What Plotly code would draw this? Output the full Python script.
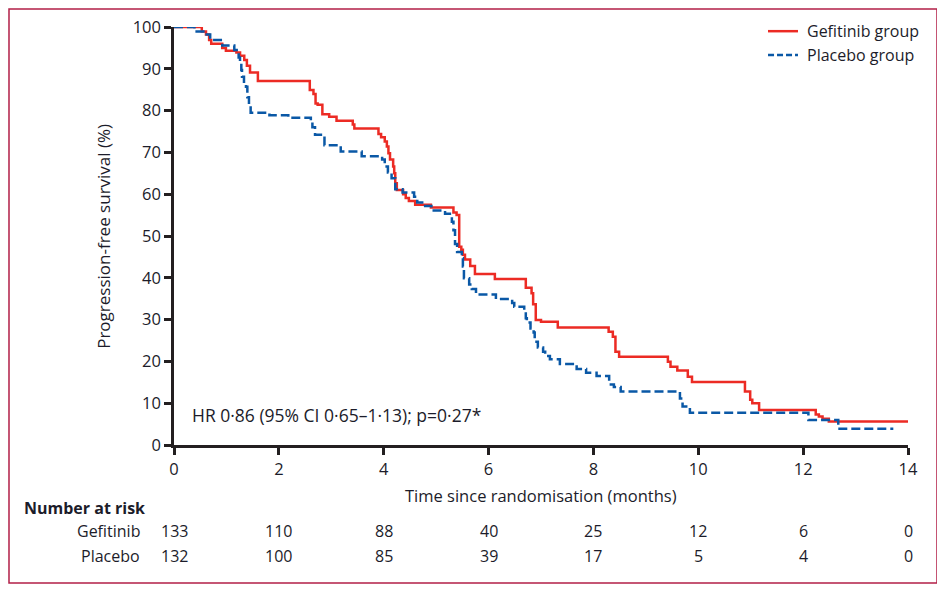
import plotly.graph_objects as go

# Kaplan-Meier step data (months, % progression-free)
gef_t = [0, 0.53, 0.61, 0.67, 0.71, 0.92, 0.99, 1.19, 1.26, 1.34, 1.39, 1.45, 1.60,
         2.59, 2.66, 2.70, 2.74, 2.83, 2.96, 3.10, 3.41, 3.44, 3.90, 3.95, 4.02, 4.06,
         4.09, 4.12, 4.18, 4.20, 4.22, 4.25, 4.37, 4.42, 4.48, 4.60, 4.90, 5.33, 5.39,
         5.44, 5.48, 5.51, 5.55, 5.65, 5.74, 6.12, 6.71, 6.82, 6.85, 6.90, 7.00, 7.32,
         8.29, 8.37, 8.42, 8.49, 9.42, 9.47, 9.60, 9.80, 9.88, 10.89, 10.99, 11.03,
         11.16, 12.24, 12.30, 12.37, 12.49, 14.0]
gef_s = [100, 98.9, 98.2, 96.9, 96.0, 95.0, 94.3, 93.9, 93.1, 92.1, 90.7, 89.1, 87.1,
         84.9, 84.0, 81.7, 81.4, 79.1, 78.5, 77.6, 76.7, 75.7, 74.4, 73.6, 72.6, 71.4,
         69.8, 68.3, 66.6, 65.0, 62.6, 61.0, 60.0, 59.1, 58.4, 57.5, 56.8, 55.6, 55.0,
         47.4, 46.7, 45.5, 44.4, 42.8, 40.9, 39.7, 37.6, 36.3, 33.7, 29.9, 29.5, 28.1,
         27.1, 25.9, 22.3, 21.1, 19.9, 18.7, 17.8, 16.3, 15.1, 12.8, 10.8, 10.0,
         8.4, 7.3, 6.8, 6.3, 5.6, 5.6]

pla_t = [0, 0.39, 0.56, 0.69, 0.92, 1.15, 1.195, 1.233, 1.259, 1.284, 1.297, 1.335,
         1.373, 1.399, 1.43, 1.462, 1.82, 2.18, 2.61, 2.64, 2.69, 2.87, 3.18, 3.58,
         3.97, 4.02, 4.08, 4.15, 4.22, 4.36, 4.58, 4.64, 4.79, 4.91, 5.17, 5.30, 5.33,
         5.36, 5.40, 5.49, 5.51, 5.53, 5.63, 5.68, 5.76, 6.14, 6.45, 6.49, 6.68, 6.71,
         6.73, 6.80, 6.86, 6.88, 6.94, 7.04, 7.08, 7.17, 7.36, 7.68, 7.86, 8.06, 8.30,
         8.39, 8.52, 9.65, 9.70, 9.84, 12.10, 12.67, 13.72]
pla_s = [100, 98.9, 98.2, 96.9, 95.6, 94.5, 93.7, 92.7, 91.3, 89.7, 88.1, 86.9,
         85.7, 83.2, 81.3, 79.5, 78.9, 78.3, 77.2, 76.0, 74.2, 71.7, 70.2, 69.1,
         68.3, 66.6, 65.2, 63.8, 61.2, 60.4, 59.4, 58.0, 57.2, 56.1, 55.3, 53.4, 51.4,
         48.1, 46.2, 44.7, 42.7, 39.9, 38.4, 37.3, 36.0, 34.9, 34.0, 33.1, 31.9, 30.3,
         29.3, 27.9, 26.9, 24.7, 23.3, 22.3, 21.3, 20.5, 19.4, 18.2, 17.3, 16.5, 14.5,
         13.9, 12.8, 11.1, 9.2, 7.7, 6.0, 3.9, 3.9]

# Number at risk table
risk_times = [0, 2, 4, 6, 8, 10, 12, 14]
risk_gef = [133, 110, 88, 40, 25, 12, 6, 0]
risk_pla = [132, 100, 85, 39, 17, 5, 4, 0]

series_names = ["Gefitinib group", "Placebo group"]
x_ticks = [0, 2, 4, 6, 8, 10, 12, 14]
y_ticks = [0, 10, 20, 30, 40, 50, 60, 70, 80, 90, 100]

FONT = "Open Sans"
TXT = "#1c1c2a"
AX = "#231f20"
RED = "#ec2b24"
BLUE = "#0a58a6"

fig = go.Figure()
fig.add_trace(go.Scatter(x=gef_t, y=gef_s, mode="lines", line_shape="hv",
                         line=dict(color=RED, width=2.5), name=series_names[0],
                         cliponaxis=False, showlegend=False))
fig.add_trace(go.Scatter(x=pla_t, y=pla_s, mode="lines", line_shape="hv",
                         line=dict(color=BLUE, width=2.5, dash="9px,4px"),
                         name=series_names[1], cliponaxis=False, showlegend=False))

annotations = []
annotations.append(dict(text="Time since randomisation (months)", x=0.5, y=-0.12,
                        xref="paper", yref="paper", showarrow=False,
                        xanchor="center", yanchor="middle",
                        font=dict(family=FONT, size=16.5, color=TXT)))
annotations.append(dict(text="Progression-free survival (%)", x=-0.097, y=0.5,
                        xref="paper", yref="paper", showarrow=False, textangle=-90,
                        xanchor="center", yanchor="middle",
                        font=dict(family=FONT, size=17, color=TXT)))
annotations.append(dict(text="HR 0·86 (95% CI 0·65–1·13); p=0·27*", x=0.3, y=7.2,
                        xref="x", yref="y", showarrow=False, xanchor="left",
                        yanchor="middle", font=dict(family=FONT, size=17.5, color=TXT)))
annotations.append(dict(text="<b>Number at risk</b>", x=-0.207, y=-0.151,
                        xref="paper", yref="paper", showarrow=False, xanchor="left",
                        yanchor="middle", font=dict(family=FONT, size=16, color=TXT)))
for label, yy in (("Gefitinib", -0.206), ("Placebo", -0.266)):
    annotations.append(dict(text=label, x=-0.0436, y=yy, xref="paper", yref="paper",
                            showarrow=False, xanchor="right", yanchor="middle",
                            font=dict(family=FONT, size=16, color=TXT)))
for t, g, p in zip(risk_times, risk_gef, risk_pla):
    for val, yy in ((g, -0.206), (p, -0.266)):
        annotations.append(dict(text=str(val), x=t, y=yy, xref="x", yref="paper",
                                showarrow=False, xanchor="center", yanchor="middle",
                                font=dict(family=FONT, size=16, color=TXT)))

# legend (drawn as line samples + labels)
shapes = []
for name, color, dash, ly in ((series_names[0], RED, "solid", 0.990),
                              (series_names[1], BLUE, "6px,3px", 0.933)):
    shapes.append(dict(type="line", xref="paper", yref="paper", x0=0.8093, x1=0.8501,
                       y0=ly, y1=ly, line=dict(color=color, width=2.5, dash=dash)))
    annotations.append(dict(text=name, x=0.8597, y=ly, xref="paper", yref="paper",
                            showarrow=False, xanchor="left", yanchor="middle",
                            font=dict(family=FONT, size=16, color=TXT)))

shapes.append(dict(type="rect", xref="paper", yref="paper", x0=-0.2248, x1=1.0395,
                   y0=-0.330, y1=1.0431, line=dict(color="#b21f47", width=1.5),
                   fillcolor="rgba(0,0,0,0)", layer="below"))

fig.update_layout(
    width=937, height=586,
    margin=dict(l=166, r=37, t=19, b=149, autoexpand=False),
    paper_bgcolor="white", plot_bgcolor="white",
    font=dict(family=FONT, size=16, color=TXT),
    showlegend=False,
    xaxis=dict(range=[0, 14], tickvals=x_ticks, ticks="outside", ticklen=7,
               tickwidth=2.5, tickcolor=AX, showline=True, linewidth=2.5,
               linecolor=AX, showgrid=False, zeroline=False, automargin=False,
               tickfont=dict(family=FONT, size=16.5, color=TXT), fixedrange=True),
    yaxis=dict(range=[0, 100], tickvals=y_ticks, ticks="outside", ticklen=7,
               tickwidth=2.5, tickcolor=AX, showline=True, linewidth=2.5,
               linecolor=AX, showgrid=False, zeroline=False, automargin=False,
               tickfont=dict(family=FONT, size=16.5, color=TXT), fixedrange=True),
    annotations=annotations,
    shapes=shapes,
)

fig.write_html("out.html")
